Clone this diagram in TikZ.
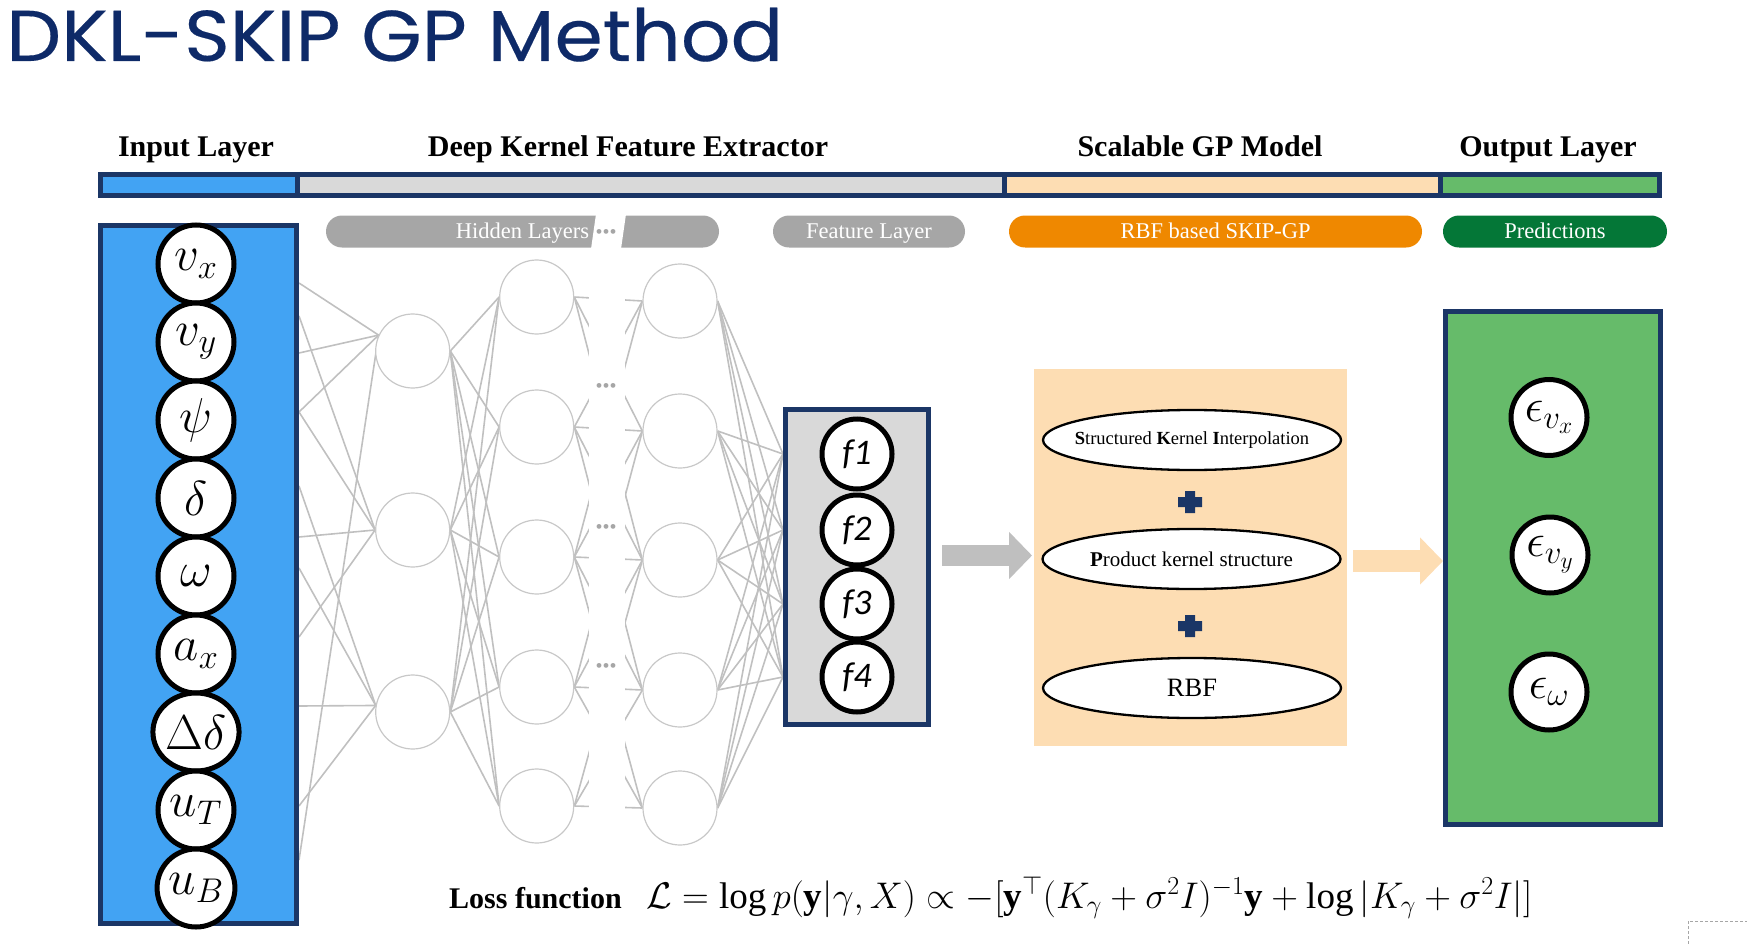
\RequirePackage{fix-cm}
\documentclass[tikz,border=0pt]{standalone}
\usepackage{fontspec}
\setmainfont{Liberation Serif}
\newfontfamily\titlefont{Poppins}[FakeBold=0.25]
\newfontfamily\calibrifont{Carlito}
\usepackage{graphicx}
\usetikzlibrary{shapes.geometric,arrows.meta}

\definecolor{ksnavy}{RGB}{27,54,102}
\definecolor{kstitle}{RGB}{14,42,104}
\definecolor{ksblue}{RGB}{66,163,243}
\definecolor{ksgray}{RGB}{217,217,217}
\definecolor{kspeach}{RGB}{253,221,179}
\definecolor{ksgreen}{RGB}{102,187,106}
\definecolor{kspill}{RGB}{166,166,166}
\definecolor{ksorange}{RGB}{239,136,0}
\definecolor{ksdkgreen}{RGB}{4,119,55}
\definecolor{ksnet}{RGB}{192,192,192}
\definecolor{ksnode}{RGB}{200,200,200}
\definecolor{ksarrow}{RGB}{191,191,191}

\pgfdeclarelayer{edges}
\pgfsetlayers{edges,main}

\begin{document}
\begin{tikzpicture}[x=1pt,y=-1pt,
  hdr/.style={anchor=base,inner sep=0pt,font=\fontsize{30}{36}\selectfont\bfseries},
  pill/.style={rectangle,rounded corners=16pt,minimum height=32pt,inner sep=0pt,
    text height=14.6pt,text depth=0pt,text=white,font=\fontsize{22.5}{27}\selectfont},
  panel/.style={rectangle,draw=ksnavy,line width=5pt,inner sep=0pt},
  barpart/.style={draw=ksnavy,line width=5pt},
  innode/.style={ellipse,draw=black,line width=5pt,fill=white,minimum width=76pt,
    minimum height=78pt,inner sep=0pt,font=\fontsize{49}{56}\selectfont},
  hnode/.style={circle,draw=ksnode,line width=1.2pt,fill=white,minimum size=74pt,inner sep=0pt},
  fnode/.style={circle,draw=black,line width=5pt,fill=white,minimum size=70pt,inner sep=0pt,
    font=\calibrifont\itshape\fontsize{36}{42}\selectfont},
  onode/.style={circle,draw=black,line width=5pt,fill=white,minimum size=76pt,inner sep=0pt,
    font=\fontsize{47}{54}\selectfont},
  kell/.style={ellipse,draw=black,line width=2.3pt,fill=white,minimum width=298pt,
    minimum height=60pt,inner sep=0pt},
  net/.style={draw=ksnet,line width=1.6pt},
  dots/.style={inner sep=0pt,text=kspill,font=\fontsize{20}{20}\selectfont},
  blockarrow/.style={line width=#1,-{Triangle[length=23pt,width=46pt]}}
]
\useasboundingbox (0,0) rectangle (1747,944);

% title
\node[anchor=base west,inner sep=0pt,text=kstitle,font=\titlefont\fontsize{72}{80}\selectfont]
  (title) at (6,61) {\scalebox{1.08}[1]{DKL-SKIP GP Method}};

% section headings
\node[hdr] (hin)  at (196,157)  {Input Layer};
\node[hdr] (hdk)  at (628,157)  {Deep Kernel Feature Extractor};
\node[hdr] (hgp)  at (1200,157) {Scalable GP Model};
\node[hdr] (hout) at (1548,157) {Output Layer};

% coloured header bar
\filldraw[barpart,fill=ksblue]  (100.5,174.5) rectangle (297.5,195.5);
\filldraw[barpart,fill=ksgray]  (297.5,174.5) rectangle (1004,195.5);
\filldraw[barpart,fill=kspeach] (1004,174.5) rectangle (1440,195.5);
\filldraw[barpart,fill=ksgreen] (1440,174.5) rectangle (1659.5,195.5);

% sub-headings
\node[pill,fill=kspill,minimum width=393pt]    (phid)  at (522.5,231.5) {Hidden Layers};
\fill[white] (596,214) -- (626,214) -- (621,249) -- (591,249) -- cycle;
\node[dots] (pdots) at (606,234) {\textbullet\textbullet\textbullet};
\node[pill,fill=kspill,minimum width=192pt]    (pfeat) at (869,231.5)   {Feature Layer};
\node[pill,fill=ksorange,minimum width=413pt]  (pgp)   at (1215.5,231.5) {RBF based SKIP-GP};
\node[pill,fill=ksdkgreen,minimum width=224pt] (ppred) at (1555,231.5)  {Predictions};

% input layer
\node[panel,fill=ksblue,minimum width=196pt,minimum height=698pt] (inbox) at (198.5,574.5) {};
\foreach \lbl [count=\k] in {v_x,v_y,\psi,\delta,\omega,a_x,\Delta\delta,u_T,u_B}
  \node[innode] (in\k) at (196,{264+78*(\k-1)}) {$\lbl$};

% hidden layers
\foreach \y [count=\k] in {351,530,712}
  \node[hnode] (ha\k) at (412.7,\y) {};
\foreach \y [count=\k] in {297,427,557,687,806}
  \node[hnode] (hb\k) at (536.7,\y) {};
\foreach \y [count=\k] in {301,431,560,690,808}
  \node[hnode] (hc\k) at (680,\y) {};
\node[dots] (gd1) at (606,388) {\textbullet\textbullet\textbullet};
\node[dots] (gd2) at (606,529) {\textbullet\textbullet\textbullet};
\node[dots] (gd3) at (606,668) {\textbullet\textbullet\textbullet};

% feature layer
\node[panel,fill=ksgray,minimum width=143pt,minimum height=315pt] (fbox) at (857,567) {};
\foreach \y [count=\k] in {454,530,604,677}
  \node[fnode] (f\k) at (857,\y) {f\k};

% scalable GP model
\node[rectangle,fill=kspeach,minimum width=313pt,minimum height=377pt,inner sep=0pt]
  (gpbox) at (1190.5,557.5) {};
\node[kell,font=\fontsize{18.5}{22}\selectfont] (ski) at (1192,440)
  {\makebox[0pt]{\textbf{S}tructured \textbf{K}ernel \textbf{I}nterpolation}};
\node[kell,font=\fontsize{21}{25}\selectfont] (prod) at (1191.5,559)
  {\makebox[0pt]{\textbf{P}roduct kernel structure}};
\node[kell,font=\fontsize{26.5}{30}\selectfont] (rbf) at (1192,688) {\makebox[0pt]{RBF}};
\coordinate (plus1) at (1190,502);
\coordinate (plus2) at (1190,626);
\foreach \p in {plus1,plus2}
  \fill[ksnavy] (\p) ++(-12,-5) -- ++(7,0) -- ++(0,-6) -- ++(10,0) -- ++(0,6) -- ++(7,0)
    -- ++(0,10) -- ++(-7,0) -- ++(0,6) -- ++(-10,0) -- ++(0,-6) -- ++(-7,0) -- cycle;

% output layer
\node[panel,fill=ksgreen,minimum width=215pt,minimum height=513pt] (obox) at (1553,567.5) {};
\node[onode] (o1) at (1549,417.5) {$\epsilon_{v_x}$};
\node[onode] (o2) at (1550,555)   {$\epsilon_{v_y}$};
\node[onode] (o3) at (1549,692)   {$\epsilon_{\omega}$};

% block arrows between the stages
\coordinate (a1s) at (942,555.5);
\coordinate (a1e) at (1032,555.5);
\coordinate (a2s) at (1353,561);
\coordinate (a2e) at (1443,561);
\draw[blockarrow=21pt,draw=ksarrow,fill=ksarrow] (a1s) -- (a1e);
\draw[blockarrow=22pt,draw=kspeach,fill=kspeach] (a2s) -- (a2e);

% loss
\node[anchor=base west,inner sep=0pt,font=\fontsize{30}{36}\selectfont\bfseries]
  (losslbl) at (449,908) {Loss function};
\node[anchor=base west,inner sep=0pt] (loss) at (646,908)
  {\resizebox{886pt}{!}{\fontsize{30}{36}\selectfont
   $\mathcal{L} = \log p(\mathbf{y}|\gamma, X) \propto -[\mathbf{y}^{\top}(K_\gamma+\sigma^2 I)^{-1}\mathbf{y} + \log|K_\gamma+\sigma^2 I|]$}};

% page corner mark
\draw[draw=gray!70,line width=1pt,dash pattern=on 3pt off 2pt] (1688,944) -- (1688,921) -- (1747,921);

% network connections
\begin{pgfonlayer}{edges}
  \foreach \y/\n/\a in {283/1/155,353/1/155,412/1/155,860/1/155,
                        316/2/180,412/2/180,537/2/180,637/2/180,
                        486/3/170,568/3/170,706/3/170,806/3/170}
    \draw[net] (inbox.east |- 0,\y) -- (ha\n.\a);
  \foreach \i in {1,2,3}
    \foreach \j in {1,...,5}
      \draw[net] (ha\i.east) -- (hb\j.west);
  \foreach \i in {1,...,5}
    \foreach \j in {1,...,5}{
      \pgfmathtruncatemacro{\dd}{abs(\i-\j)}
      \ifnum\dd<3 \draw[net] (hb\i.east) -- (hc\j.west);\fi
    }
  \foreach \i in {1,...,5}
    \foreach \j in {1,...,4}
      \draw[net] (hc\i.east) -- (fbox.west |- f\j);
  \fill[white] (589,258) rectangle (625,850);
\end{pgfonlayer}
\end{tikzpicture}
\end{document}
